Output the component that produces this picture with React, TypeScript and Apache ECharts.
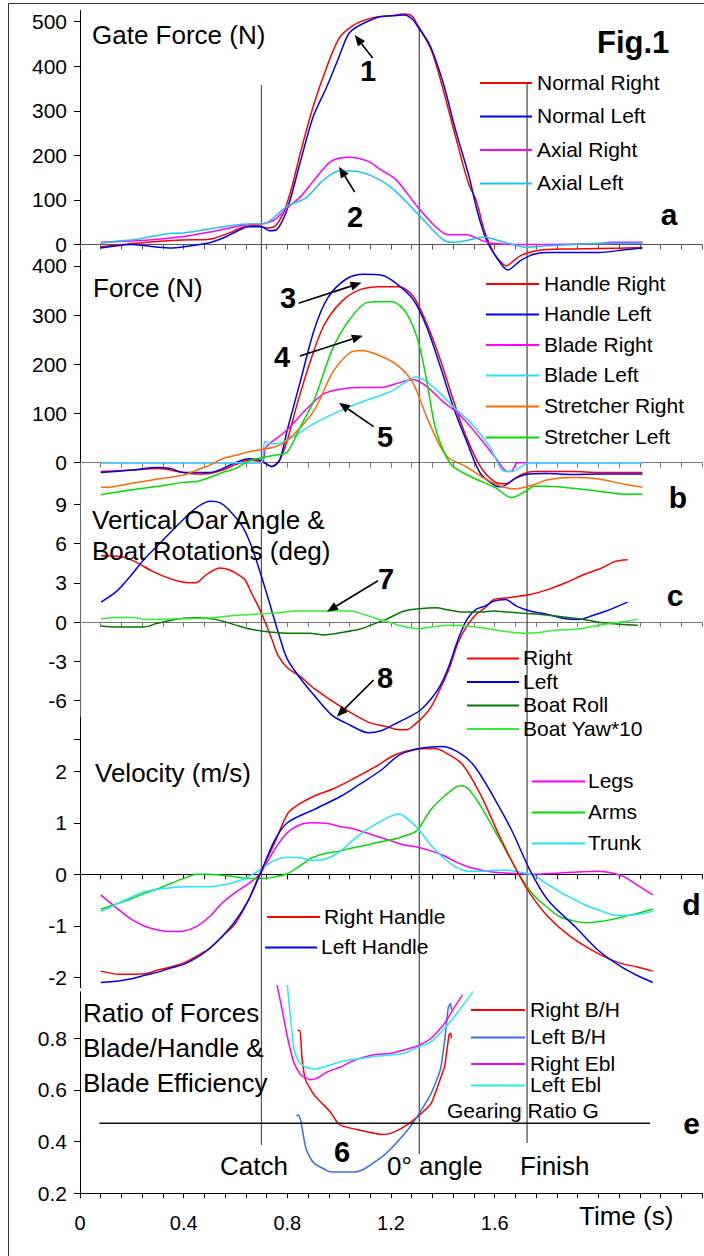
import { useEffect, useRef } from "react";
import * as echarts from "echarts";

const FONT = "'Liberation Sans', Arial, Helvetica, sans-serif";

// ---------- axes ----------
const timeMin = 0;
const timeMax = 2.4;
const timeTickStep = 0.08;
const timeLabels = [0, 0.4, 0.8, 1.2, 1.6];

const ticksA = [0, 100, 200, 300, 400, 500];
const ticksB = [0, 100, 200, 300, 400];
const ticksC = [-9, -6, -3, 0, 3, 6, 9];
const labelsC = [-6, -3, 0, 3, 6, 9];
const ticksD = [-2, -1, 0, 1, 2];
const ticksE = [0.2, 0.4, 0.6, 0.8];

// event times (s)
const catchTime = 0.7;
const zeroAngleTime = 1.309;
const finishTime = 1.725;

// ---------- panel a: gate force (N) ----------
const normalRight = [[0.08,-5],[0.2,2],[0.3,7],[0.4,10],[0.5,12],[0.575,26],[0.62,37],[0.66,42],[0.69,42],[0.72,37],[0.75,40],[0.78,65],[0.8,95],[0.818,130],[0.85,205],[0.9,310],[0.95,395],[1.0,463],[1.05,490],[1.1,504],[1.15,511],[1.2,513],[1.25,517],[1.28,513],[1.3,495],[1.355,437],[1.4,350],[1.45,240],[1.5,135],[1.528,100],[1.563,26],[1.597,-19],[1.625,-40],[1.645,-48],[1.67,-38],[1.7,-25],[1.75,-15],[1.8,-11],[1.9,-10],[2.0,-9],[2.17,-7]];
const normalLeft = [[0.08,-8],[0.2,0],[0.3,-6],[0.35,-8],[0.4,-5],[0.5,4],[0.55,14],[0.6,28],[0.65,40],[0.7,40],[0.73,31],[0.76,34],[0.8,80],[0.85,185],[0.9,287],[0.95,351],[1.0,422],[1.03,466],[1.05,481],[1.1,498],[1.15,510],[1.2,513],[1.25,515],[1.28,507],[1.3,492],[1.35,447],[1.4,365],[1.45,255],[1.5,155],[1.535,70],[1.57,8],[1.62,-40],[1.65,-57],[1.7,-36],[1.75,-22],[1.8,-18],[2.0,-18],[2.1,-12],[2.17,-8]];
const axialRight = [[0.08,5],[0.2,8],[0.3,12],[0.4,18],[0.5,28],[0.6,40],[0.65,45],[0.7,46],[0.75,55],[0.8,82],[0.852,108],[0.9,142],[0.97,187],[1.04,196],[1.11,187],[1.16,168],[1.22,145],[1.3,86],[1.37,41],[1.42,22],[1.49,22],[1.56,7],[1.6,2],[1.7,0],[1.8,0],[2.0,2],[2.05,5],[2.17,5]];
const axialLeft = [[0.08,3],[0.15,8],[0.2,10],[0.3,20],[0.35,25],[0.4,26],[0.5,35],[0.6,44],[0.65,46],[0.7,46],[0.73,52],[0.8,86],[0.87,104],[0.94,145],[1.0,165],[1.05,165],[1.12,155],[1.2,128],[1.3,71],[1.4,11],[1.44,5],[1.5,10],[1.56,17],[1.62,8],[1.67,0],[1.72,-6],[1.8,-3],[1.9,0],[2.0,2],[2.17,3]];

// ---------- panel b: force (N) ----------
const handleRight = [[0.08,-18],[0.2,-15],[0.3,-12],[0.4,-20],[0.45,-23],[0.5,-22],[0.55,-15],[0.6,-4],[0.65,5],[0.7,2],[0.74,-7],[0.77,5],[0.8,46],[0.835,114],[0.887,203],[0.94,278],[1.01,328],[1.08,352],[1.16,358],[1.23,358],[1.285,339],[1.337,284],[1.39,210],[1.44,128],[1.49,53],[1.545,-8],[1.6,-39],[1.64,-43],[1.7,-25],[1.75,-18],[1.8,-18],[1.9,-18],[2.0,-20],[2.17,-20]];
const handleLeft = [[0.08,-20],[0.2,-15],[0.3,-10],[0.35,-12],[0.4,-20],[0.5,-20],[0.6,0],[0.65,8],[0.7,4],[0.74,-8],[0.77,5],[0.8,67],[0.852,169],[0.904,271],[0.956,335],[1.026,373],[1.095,383],[1.164,381],[1.216,366],[1.285,332],[1.337,277],[1.39,196],[1.44,114],[1.49,46],[1.545,-22],[1.6,-46],[1.625,-49],[1.68,-32],[1.72,-24],[1.8,-22],[1.9,-24],[2.0,-23],[2.17,-23]];
const bladeRight = [[0.08,0],[0.7,0],[0.715,30],[0.73,38],[0.8,67],[0.87,107],[0.94,140],[1.01,150],[1.08,153],[1.164,153],[1.216,160],[1.285,169],[1.337,155],[1.407,121],[1.458,101],[1.528,60],[1.6,12],[1.65,-18],[1.666,-17],[1.69,0],[2.17,0]];
const bladeLeft = [[0.08,0],[0.695,0],[0.714,43],[0.74,38],[0.8,46],[0.904,80],[1.01,107],[1.11,128],[1.2,145],[1.25,162],[1.294,174],[1.337,165],[1.39,141],[1.44,114],[1.51,80],[1.58,33],[1.63,-15],[1.666,-18],[1.717,-3],[1.735,0],[2.17,0]];
const stretcherRight = [[0.08,-50],[0.1,-50],[0.2,-42],[0.3,-33],[0.4,-25],[0.45,-15],[0.5,-5],[0.55,8],[0.6,15],[0.65,22],[0.7,27],[0.75,32],[0.8,45],[0.904,107],[0.973,182],[1.04,223],[1.086,228],[1.164,216],[1.23,196],[1.285,162],[1.337,94],[1.39,33],[1.424,9],[1.49,-8],[1.56,-32],[1.63,-49],[1.68,-53],[1.75,-45],[1.8,-35],[1.9,-30],[2.0,-33],[2.1,-44],[2.17,-50]];
const stretcherLeft = [[0.08,-65],[0.2,-55],[0.3,-48],[0.4,-40],[0.45,-38],[0.5,-30],[0.55,-20],[0.6,-12],[0.65,3],[0.7,10],[0.75,15],[0.8,22],[0.85,73],[0.904,128],[0.973,230],[1.04,291],[1.11,326],[1.2,328],[1.25,311],[1.285,277],[1.31,237],[1.337,169],[1.37,73],[1.407,19],[1.44,-8],[1.51,-29],[1.6,-50],[1.665,-71],[1.72,-58],[1.75,-48],[1.8,-48],[1.9,-52],[2.0,-58],[2.1,-64],[2.17,-64]];

// ---------- panel c: vertical oar angle & boat rotations (deg) ----------
const oarRight = [[0.081,5.07],[0.16,5.0],[0.21,4.64],[0.28,3.88],[0.35,3.3],[0.4,3.04],[0.445,3.0],[0.488,3.63],[0.54,4.13],[0.575,4.0],[0.61,3.63],[0.636,3.25],[0.662,2.2],[0.688,1.2],[0.714,0],[0.74,-1.3],[0.765,-2.6],[0.8,-3.5],[0.852,-4.2],[0.904,-5.1],[1.008,-6.5],[1.112,-7.66],[1.181,-8.0],[1.216,-8.2],[1.26,-8.25],[1.294,-7.8],[1.329,-7.15],[1.355,-6.5],[1.39,-5.1],[1.424,-3.6],[1.459,-1.57],[1.493,-0.3],[1.528,0.58],[1.563,1.09],[1.597,1.72],[1.649,1.85],[1.736,2.1],[1.805,2.48],[1.874,3.0],[1.944,3.63],[2.013,4.13],[2.065,4.64],[2.113,4.77]];
const oarLeft = [[0.081,1.52],[0.142,2.36],[0.194,3.5],[0.246,4.77],[0.315,6.16],[0.384,7.56],[0.454,8.82],[0.506,9.25],[0.54,9.13],[0.575,8.57],[0.627,7.3],[0.662,5.78],[0.696,3.75],[0.731,1.47],[0.765,-0.81],[0.8,-2.84],[0.852,-4.36],[0.904,-5.63],[0.973,-7.15],[1.043,-7.9],[1.112,-8.47],[1.164,-8.3],[1.216,-7.8],[1.268,-7.28],[1.312,-6.77],[1.355,-5.88],[1.39,-4.87],[1.424,-3.35],[1.459,-1.32],[1.493,0.2],[1.528,0.96],[1.563,1.22],[1.597,1.6],[1.641,1.72],[1.684,1.22],[1.736,0.84],[1.805,0.58],[1.874,0.25],[1.926,0.2],[1.978,0.5],[2.03,0.84],[2.113,1.52]];
const boatRoll = [[0.081,-0.3],[0.142,-0.38],[0.246,-0.38],[0.298,-0.1],[0.384,0.25],[0.454,0.33],[0.523,0.2],[0.592,-0.18],[0.662,-0.56],[0.731,-0.76],[0.817,-0.86],[0.887,-0.86],[0.939,-0.99],[1.008,-0.81],[1.077,-0.56],[1.13,-0.18],[1.181,0.2],[1.251,0.84],[1.32,1.04],[1.372,1.09],[1.424,0.91],[1.476,0.76],[1.545,0.76],[1.597,0.84],[1.649,0.76],[1.719,0.66],[1.788,0.56],[1.857,0.41],[1.926,0.25],[1.996,0],[2.083,-0.18],[2.152,-0.25]];
const boatYaw10 = [[0.081,0.25],[0.142,0.35],[0.211,0.35],[0.246,0.2],[0.384,0.25],[0.488,0.3],[0.592,0.5],[0.696,0.63],[0.765,0.71],[0.835,0.84],[0.939,0.84],[1.043,0.84],[1.095,0.58],[1.147,0.25],[1.199,-0.05],[1.251,-0.35],[1.303,-0.51],[1.355,-0.38],[1.424,-0.25],[1.493,-0.3],[1.563,-0.48],[1.649,-0.74],[1.719,-0.86],[1.771,-0.81],[1.84,-0.61],[1.909,-0.56],[1.978,-0.35],[2.048,-0.1],[2.117,0.08],[2.152,0.2]];

// ---------- panel d: velocity (m/s) ----------
const rightHandle = [[0.08,-1.88],[0.15,-1.94],[0.25,-1.93],[0.3,-1.86],[0.35,-1.8],[0.4,-1.72],[0.45,-1.59],[0.5,-1.44],[0.55,-1.2],[0.6,-0.95],[0.65,-0.5],[0.693,0],[0.75,0.6],[0.8,1.17],[0.835,1.33],[0.904,1.52],[0.973,1.65],[1.06,1.87],[1.13,2.06],[1.216,2.32],[1.285,2.42],[1.37,2.44],[1.424,2.32],[1.476,2.13],[1.545,1.55],[1.615,0.78],[1.684,0.08],[1.736,-0.37],[1.805,-0.82],[1.89,-1.2],[1.996,-1.53],[2.08,-1.72],[2.15,-1.8],[2.21,-1.88]];
const leftHandle = [[0.08,-2.1],[0.15,-2.07],[0.2,-2.03],[0.25,-1.96],[0.3,-1.9],[0.35,-1.82],[0.4,-1.75],[0.45,-1.62],[0.5,-1.44],[0.55,-1.2],[0.6,-0.9],[0.65,-0.5],[0.695,0],[0.75,0.65],[0.8,1.0],[0.904,1.26],[1.008,1.52],[1.077,1.74],[1.164,2.03],[1.233,2.32],[1.32,2.45],[1.398,2.48],[1.476,2.32],[1.528,2.06],[1.597,1.49],[1.666,0.85],[1.736,0.08],[1.805,-0.5],[1.909,-1.01],[1.996,-1.46],[2.083,-1.78],[2.152,-1.97],[2.21,-2.1]];
const legs = [[0.08,-0.4],[0.15,-0.69],[0.2,-0.88],[0.25,-1.01],[0.3,-1.08],[0.35,-1.11],[0.4,-1.1],[0.45,-1.01],[0.5,-0.82],[0.55,-0.55],[0.6,-0.35],[0.65,-0.18],[0.693,0],[0.765,0.59],[0.818,0.88],[0.887,1.0],[0.95,0.99],[1.0,0.93],[1.05,0.89],[1.1,0.81],[1.15,0.73],[1.2,0.65],[1.25,0.57],[1.3,0.53],[1.35,0.46],[1.4,0.37],[1.45,0.24],[1.5,0.14],[1.55,0.08],[1.6,0.04],[1.7,0.01],[1.75,0],[1.8,0.01],[1.9,0.04],[2.0,0.06],[2.05,0.03],[2.1,-0.05],[2.15,-0.21],[2.21,-0.4]];
const arms = [[0.08,-0.68],[0.15,-0.56],[0.2,-0.47],[0.25,-0.37],[0.3,-0.28],[0.35,-0.18],[0.4,-0.08],[0.45,0],[0.5,0],[0.55,-0.02],[0.6,-0.05],[0.65,-0.08],[0.7,-0.08],[0.75,-0.05],[0.8,0.01],[0.85,0.17],[0.9,0.33],[0.95,0.41],[1.0,0.45],[1.05,0.51],[1.1,0.56],[1.15,0.62],[1.2,0.67],[1.25,0.74],[1.3,0.85],[1.35,1.23],[1.4,1.49],[1.45,1.69],[1.47,1.72],[1.5,1.65],[1.55,1.29],[1.6,0.85],[1.65,0.4],[1.7,-0.05],[1.75,-0.4],[1.8,-0.63],[1.85,-0.82],[1.9,-0.9],[1.95,-0.94],[2.0,-0.92],[2.05,-0.88],[2.1,-0.82],[2.15,-0.76],[2.21,-0.68]];
const trunk = [[0.08,-0.72],[0.15,-0.56],[0.2,-0.44],[0.25,-0.34],[0.3,-0.29],[0.35,-0.26],[0.4,-0.24],[0.5,-0.24],[0.55,-0.21],[0.6,-0.15],[0.65,-0.05],[0.7,0.11],[0.75,0.27],[0.8,0.33],[0.85,0.32],[0.9,0.27],[0.95,0.3],[1.0,0.43],[1.05,0.65],[1.1,0.85],[1.15,1.0],[1.2,1.13],[1.23,1.17],[1.25,1.13],[1.3,0.91],[1.35,0.59],[1.4,0.33],[1.45,0.14],[1.5,0.06],[1.55,0.06],[1.6,0.08],[1.65,0.08],[1.7,0.04],[1.75,-0.02],[1.8,-0.18],[1.85,-0.34],[1.9,-0.47],[1.95,-0.6],[2.0,-0.69],[2.05,-0.78],[2.1,-0.8],[2.15,-0.78],[2.21,-0.72]];

// ---------- panel e: ratio of forces & blade efficiency ----------
const rightBH = [[0.839,0.83],[0.849,0.83],[0.856,0.73],[0.87,0.639],[0.904,0.58],[0.965,0.516],[0.991,0.477],[1.008,0.462],[1.077,0.445],[1.164,0.428],[1.199,0.432],[1.251,0.458],[1.303,0.497],[1.355,0.548],[1.398,0.665],[1.407,0.69],[1.424,0.813],[1.43,0.82],[1.433,0.8]];
const leftBH = [[0.835,0.5],[0.843,0.503],[0.852,0.48],[0.87,0.38],[0.887,0.34],[0.904,0.316],[0.965,0.283],[1.008,0.282],[1.06,0.282],[1.095,0.293],[1.164,0.34],[1.216,0.39],[1.268,0.45],[1.303,0.5],[1.355,0.587],[1.39,0.677],[1.407,0.79],[1.421,0.92],[1.43,0.935],[1.433,0.91]];
const rightEbl = [[0.76,1.006],[0.775,0.935],[0.8,0.806],[0.826,0.703],[0.852,0.658],[0.887,0.64],[0.913,0.645],[0.956,0.671],[1.008,0.69],[1.06,0.716],[1.13,0.735],[1.199,0.742],[1.251,0.755],[1.303,0.77],[1.355,0.8],[1.407,0.858],[1.442,0.916],[1.476,0.968]];
const leftEbl = [[0.8,1.006],[0.809,0.91],[0.826,0.755],[0.844,0.71],[0.87,0.688],[0.905,0.681],[0.956,0.693],[1.008,0.71],[1.06,0.719],[1.13,0.729],[1.199,0.735],[1.251,0.742],[1.303,0.765],[1.355,0.787],[1.407,0.839],[1.459,0.903],[1.516,0.98]];
const gearingRatio = [[0.075,0.471],[2.2,0.471]];

// ---------- colours ----------
const RED = "#ff0000";
const BLUE = "#0000ee";
const MAGENTA = "#ff00ff";
const SKY = "#1ec3f2";
const CYAN = "#22e2ff";
const ORANGE = "#ff6a00";
const GREEN = "#00dd00";
const DKGREEN = "#007a00";
const LTGREEN = "#33ee33";
const MIDBLUE = "#3a6cf0";
const CYAN2 = "#22eeee";

type S = { name: string; data: number[][]; color: string; panel: number };
const seriesList: S[] = [
  { name: "Normal Right", data: normalRight, color: RED, panel: 0 },
  { name: "Normal Left", data: normalLeft, color: BLUE, panel: 0 },
  { name: "Axial Right", data: axialRight, color: MAGENTA, panel: 0 },
  { name: "Axial Left", data: axialLeft, color: SKY, panel: 0 },
  { name: "Handle Right", data: handleRight, color: RED, panel: 1 },
  { name: "Handle Left", data: handleLeft, color: BLUE, panel: 1 },
  { name: "Blade Right", data: bladeRight, color: MAGENTA, panel: 1 },
  { name: "Blade Left", data: bladeLeft, color: CYAN, panel: 1 },
  { name: "Stretcher Right", data: stretcherRight, color: ORANGE, panel: 1 },
  { name: "Stretcher Left", data: stretcherLeft, color: GREEN, panel: 1 },
  { name: "Right", data: oarRight, color: RED, panel: 2 },
  { name: "Left", data: oarLeft, color: BLUE, panel: 2 },
  { name: "Boat Roll", data: boatRoll, color: DKGREEN, panel: 2 },
  { name: "Boat Yaw*10", data: boatYaw10, color: LTGREEN, panel: 2 },
  { name: "Legs", data: legs, color: MAGENTA, panel: 3 },
  { name: "Arms", data: arms, color: GREEN, panel: 3 },
  { name: "Trunk", data: trunk, color: CYAN, panel: 3 },
  { name: "Right Handle", data: rightHandle, color: RED, panel: 3 },
  { name: "Left Handle", data: leftHandle, color: BLUE, panel: 3 },
  { name: "Right B/H", data: rightBH, color: RED, panel: 4 },
  { name: "Left B/H", data: leftBH, color: MIDBLUE, panel: 4 },
  { name: "Right Ebl", data: rightEbl, color: MAGENTA, panel: 4 },
  { name: "Left Ebl", data: leftEbl, color: CYAN2, panel: 4 },
  { name: "Gearing Ratio G", data: gearingRatio, color: "#111111", panel: 4 },
];

// ---------- layout ----------
const panels = [
  { top: 10.5, height: 234, min: 0, max: 525, ticks: ticksA, labels: ticksA, xColor: "#555" },
  { top: 246.3, height: 216.4, min: 0, max: 440, ticks: ticksB, labels: ticksB, xColor: "#777" },
  { top: 465.2, height: 274.4, min: -9, max: 12, ticks: ticksC, labels: labelsC, xColor: "#777" },
  { top: 717.2, height: 270.4, min: -2.2, max: 3.05, ticks: ticksD, labels: ticksD, xColor: "#000" },
  { top: 991.8, height: 201.5, min: 0.2, max: 0.98, ticks: ticksE, labels: ticksE, xColor: "#000" },
];

const legendLayout = [
  { names: ["Normal Right", "Normal Left", "Axial Right", "Axial Left"], x1: 480, x2: 532, tx: 537, ys: [83, 116.5, 150, 183.5] },
  { names: ["Handle Right", "Handle Left", "Blade Right", "Blade Left", "Stretcher Right", "Stretcher Left"], x1: 486, x2: 539, tx: 544, ys: [284, 314.5, 345, 375.5, 406.5, 437.5] },
  { names: ["Right", "Left", "Boat Roll", "Boat Yaw*10"], x1: 467, x2: 519, tx: 523, ys: [658.5, 682, 705.5, 729] },
  { names: ["Legs", "Arms", "Trunk"], x1: 532, x2: 585, tx: 588, ys: [781.5, 812.5, 843.5] },
  { names: ["Right Handle"], x1: 267, x2: 320, tx: 324, ys: [917] },
  { names: ["Left Handle"], x1: 265, x2: 317, tx: 321, ys: [947.5] },
  { names: ["Right B/H", "Left B/H", "Right Ebl", "Left Ebl"], x1: 471, x2: 525, tx: 530, ys: [1010, 1037.5, 1064, 1085.5] },
];

function txt(text: string, x: number, y: number, size: number, bold = false, align = "left") {
  return {
    type: "text",
    x,
    y,
    z: 20,
    style: {
      text,
      fontSize: size,
      fontFamily: FONT,
      fontWeight: bold ? "bold" : "normal",
      fill: "#000",
      textAlign: align,
      textVerticalAlign: "middle",
    },
  };
}

function arrow(x1: number, y1: number, x2: number, y2: number) {
  const dx = x2 - x1, dy = y2 - y1;
  const L = Math.hypot(dx, dy);
  const ux = dx / L, uy = dy / L;
  const hl = 11, hw = 4.5;
  const bx = x2 - ux * hl, by = y2 - uy * hl;
  return [
    { type: "line", z: 20, shape: { x1, y1, x2: bx, y2: by }, style: { stroke: "#000", lineWidth: 1.6 } },
    { type: "polygon", z: 20, shape: { points: [[x2, y2], [bx - uy * hw, by + ux * hw], [bx + uy * hw, by - ux * hw]] }, style: { fill: "#000" } },
  ];
}

function buildOption() {
  return {
    animation: false,
    backgroundColor: "#ffffff",
    textStyle: { fontFamily: FONT },
    grid: panels.map((p) => ({
      left: 80,
      right: 2,
      top: p.top,
      height: p.height,
      containLabel: false,
      outerBoundsMode: "none",
    })),
    xAxis: panels.map((p, i) => ({
      type: "value",
      gridIndex: i,
      min: timeMin,
      max: timeMax,
      interval: timeTickStep,
      axisLine: { show: true, onZero: true, lineStyle: { color: p.xColor, width: 1 } },
      axisTick: { show: true, length: 5, lineStyle: { color: p.xColor, width: 1 } },
      axisLabel: i === 4
        ? { show: true, customValues: timeLabels, fontSize: 20, color: "#000", margin: 20, fontFamily: FONT }
        : { show: false },
      splitLine: { show: false },
    })),
    yAxis: panels.map((p, i) => ({
      type: "value",
      gridIndex: i,
      min: p.min,
      max: p.max,
      axisLine: { show: true, onZero: false, lineStyle: { color: i === 2 ? "#666" : "#000", width: 1 } },
      axisTick: { show: true, length: 6, customValues: p.ticks, lineStyle: { color: "#000" } },
      axisLabel: { show: true, customValues: p.labels, fontSize: 21, color: "#000", margin: 13, fontFamily: FONT },
      splitLine: { show: false },
    })),
    series: seriesList.map((s) => ({
      type: "line",
      name: s.name,
      xAxisIndex: s.panel,
      yAxisIndex: s.panel,
      data: s.data,
      showSymbol: false,
      symbol: "none",
      clip: false,
      smooth: s.panel === 4 ? 0.15 : 0.3,
      lineStyle: { color: s.color, width: s.name === "Gearing Ratio G" ? 1.6 : 1.5 },
      itemStyle: { color: s.color },
    })),
  };
}

function buildGraphics(px: (t: number) => number) {
  const colorOf: Record<string, string> = {};
  seriesList.forEach((s) => (colorOf[s.name] = s.color));
  const g: any[] = [];
  // frame
  g.push({ type: "line", shape: { x1: 8.5, y1: 3.5, x2: 704, y2: 3.5 }, style: { stroke: "#333", lineWidth: 1 } });
  g.push({ type: "line", shape: { x1: 8.5, y1: 3.5, x2: 8.5, y2: 1256 }, style: { stroke: "#333", lineWidth: 1 } });
  // event lines
  const cx = px(catchTime), zx = px(zeroAngleTime), fx = px(finishTime);
  g.push({ type: "line", z: 1, shape: { x1: cx, y1: 85, x2: cx, y2: 1145 }, style: { stroke: "#555", lineWidth: 1.2 } });
  g.push({ type: "line", z: 1, shape: { x1: zx, y1: 28, x2: zx, y2: 1154 }, style: { stroke: "#222", lineWidth: 1 } });
  g.push({ type: "line", z: 1, shape: { x1: fx, y1: 84, x2: fx, y2: 1143 }, style: { stroke: "#222", lineWidth: 1 } });
  // legends
  legendLayout.forEach((L) => {
    L.names.forEach((n, k) => {
      const y = L.ys[k];
      g.push({ type: "line", z: 20, shape: { x1: L.x1, y1: y, x2: L.x2, y2: y }, style: { stroke: colorOf[n], lineWidth: 2 } });
      g.push(txt(n, L.tx, y - 1, 21));
    });
  });
  g.push(txt("Gearing Ratio G", 447, 1110, 21));
  // titles
  g.push(txt("Gate Force (N)", 92, 35, 26));
  g.push(txt("Force (N)", 93, 288, 26));
  g.push(txt("Vertical Oar Angle &", 92, 520, 26));
  g.push(txt("Boat Rotations (deg)", 92, 551, 26));
  g.push(txt("Velocity (m/s)", 95, 773, 26));
  g.push(txt("Ratio of Forces", 83, 1013, 26));
  g.push(txt("Blade/Handle &", 83, 1048, 26));
  g.push(txt("Blade Efficiency", 83, 1083, 26));
  g.push(txt("Fig.1", 597, 42, 31, true));
  // panel letters
  g.push(txt("a", 669, 214.5, 30, true, "center"));
  g.push(txt("b", 678, 497, 30, true, "center"));
  g.push(txt("c", 675, 595, 30, true, "center"));
  g.push(txt("d", 691.5, 904, 30, true, "center"));
  g.push(txt("e", 691.5, 1123.5, 30, true, "center"));
  // event labels
  g.push(txt("Catch", 220, 1166, 26));
  g.push(txt("0° angle", 387, 1166, 26));
  g.push(txt("Finish", 520, 1166, 26));
  g.push(txt("Time (s)", 579, 1216, 26));
  // numbered annotations
  g.push(txt("1", 368, 71, 29, true, "center"));
  g.push(...arrow(372.7, 58, 354.7, 35));
  g.push(txt("2", 355, 217, 29, true, "center"));
  g.push(...arrow(354.7, 192, 339, 166.7));
  g.push(txt("3", 288, 298, 29, true, "center"));
  g.push(...arrow(298.6, 303.3, 361.5, 282.7));
  g.push(txt("4", 282, 357, 29, true, "center"));
  g.push(...arrow(300, 356, 362.8, 335.7));
  g.push(txt("5", 385, 437, 29, true, "center"));
  g.push(...arrow(373.6, 426.7, 339, 402.7));
  g.push(txt("7", 386, 579, 29, true, "center"));
  g.push(...arrow(378, 580.7, 327, 611.7));
  g.push(txt("8", 385, 678, 29, true, "center"));
  g.push(...arrow(373.6, 680, 336.8, 716.7));
  g.push(txt("6", 342, 1152, 29, true, "center"));
  return g;
}

export default function App() {
  const ref = useRef<HTMLDivElement>(null);
  useEffect(() => {
    if (!ref.current) return;
    const chart = echarts.init(ref.current, undefined, { renderer: "svg" });
    chart.setOption(buildOption() as any);
    const px = (t: number) => chart.convertToPixel({ xAxisIndex: 0 }, t) as unknown as number;
    chart.setOption({ graphic: buildGraphics(px) } as any);
    return () => chart.dispose();
  }, []);
  return (
    <div
      ref={ref}
      style={{ position: "absolute", left: 0, top: 0, width: 704, height: 1256, background: "#fff" }}
    />
  );
}
